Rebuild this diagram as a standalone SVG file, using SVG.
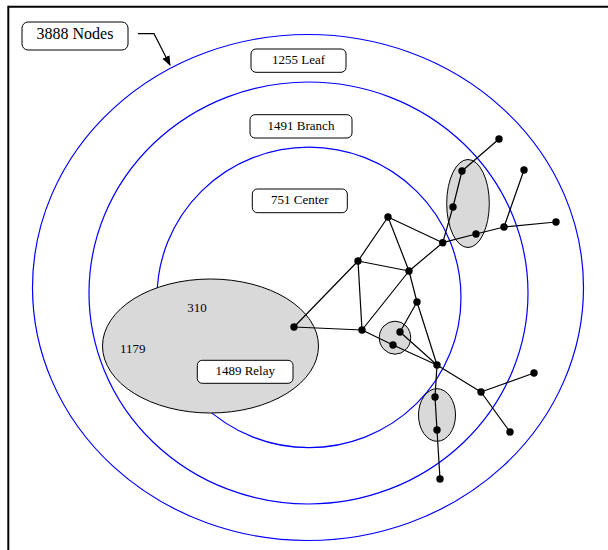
<svg xmlns="http://www.w3.org/2000/svg" width="608" height="550" viewBox="0 0 608 550">
<style>
.ring{fill:none;stroke:#0000ff;stroke-width:1.2}
.grp{fill:#d9d9d9;stroke:#000;stroke-width:1}
.box{fill:#fff;stroke:#000;stroke-width:1}
.lbl{font-family:"Liberation Serif","Times New Roman",serif;font-size:13px;fill:#000;text-anchor:middle}
.edge{stroke:#000;stroke-width:1.2;fill:none}
.dot{fill:#000}
</style>
<defs>
<marker id="ah" markerWidth="10" markerHeight="10" refX="9" refY="5" orient="auto" markerUnits="userSpaceOnUse">
<path d="M0,1 L10,5 L0,9 Z" fill="#000"/>
</marker>
</defs>
<rect width="608" height="550" fill="#fff"/>
<g id="frame">
<line x1="8.3" y1="6.7" x2="608" y2="6.7" stroke="#000" stroke-width="2"/>
<line x1="8.3" y1="5.7" x2="8.3" y2="550" stroke="#000" stroke-width="2"/>
</g>
<g id="rings">
<ellipse id="ring-outer" class="ring" cx="308" cy="287.5" rx="275.5" ry="253"/>
<ellipse id="ring-middle" class="ring" cx="308.5" cy="293" rx="219.5" ry="211"/>
<ellipse id="ring-inner" class="ring" cx="309" cy="297.4" rx="152" ry="150.3"/>
</g>
<g id="groups">
<ellipse id="relay-group" class="grp" cx="210.5" cy="346" rx="108" ry="67"/>
<ellipse id="group-ne" class="grp" cx="468" cy="203.5" rx="21.3" ry="44"/>
<ellipse id="group-mid" class="grp" cx="395" cy="337.7" rx="15.7" ry="16.5"/>
<ellipse id="group-s" class="grp" cx="437" cy="415" rx="18.5" ry="26.3"/>
</g>
<g id="labels">
<g id="label-nodes">
<rect class="box" x="22" y="22" width="106" height="28" rx="6"/>
<text class="lbl" x="75" y="38.5" style="font-size:16px">3888 Nodes</text>
</g>
<g id="label-leaf">
<rect class="box" x="251" y="49" width="95" height="23.3" rx="5"/>
<text class="lbl" x="298.5" y="63.5">1255 Leaf</text>
</g>
<g id="label-branch">
<rect class="box" x="250" y="114.7" width="102" height="23.3" rx="5"/>
<text class="lbl" x="301" y="129.5">1491 Branch</text>
</g>
<g id="label-center">
<rect class="box" x="252.3" y="189" width="95" height="23.7" rx="5"/>
<text class="lbl" x="299.8" y="204.3">751 Center</text>
</g>
<g id="label-relay">
<rect class="box" x="197.3" y="360.3" width="95.7" height="23" rx="5"/>
<text class="lbl" x="245.2" y="375.3">1489 Relay</text>
</g>
<text id="label-310" class="lbl" x="197" y="311.7">310</text>
<text id="label-1179" class="lbl" x="132.7" y="352.7">1179</text>
</g>
<g id="connectors">
<polyline class="edge" points="138,33.7 154,33.7 170,65" marker-end="url(#ah)"/>
<path class="edge" d="M294,327 L358,261 M294,327 L362,330 M358,261 L362,330 M358,261 L388,217 M358,261 L409,271 M388,217 L409,271 M388,217 L442.7,242.7 M409,271 L442.7,242.7 M409,271 L362,330 M409,271 L417,302 M417,302 L400,332 M417,302 L437,365 M400,332 L437,365 M362,330 L393,345 M393,345 L437,365 M442.7,242.7 L453,207 M453,207 L462,171 M462,171 L499,139 M442.7,242.7 L476,234 M476,234 L504,227 M504,227 L556,222 M504,227 L524,170 M437,365 L435,397 M435,397 L437,430 M437,430 L440,479 M437,365 L481,392 M481,392 L534,373 M481,392 L510,432"/>
</g>
<g id="nodes">
<circle id="n-a" class="dot" cx="294" cy="327" r="3.7"/>
<circle id="n-b" class="dot" cx="358" cy="261" r="3.7"/>
<circle id="n-c" class="dot" cx="388" cy="217" r="3.7"/>
<circle id="n-d" class="dot" cx="409" cy="271" r="3.7"/>
<circle id="n-e" class="dot" cx="362" cy="330" r="3.7"/>
<circle id="n-f" class="dot" cx="417" cy="302" r="3.7"/>
<circle id="n-g" class="dot" cx="400" cy="332" r="3.7"/>
<circle id="n-h" class="dot" cx="393" cy="345" r="3.7"/>
<circle id="n-i" class="dot" cx="437" cy="365" r="3.7"/>
<circle id="n-j" class="dot" cx="442.7" cy="242.7" r="3.7"/>
<circle id="n-k" class="dot" cx="476" cy="234" r="3.7"/>
<circle id="n-l" class="dot" cx="504" cy="227" r="3.7"/>
<circle id="n-m" class="dot" cx="556" cy="222" r="3.7"/>
<circle id="n-n" class="dot" cx="524" cy="170" r="3.7"/>
<circle id="n-o" class="dot" cx="462" cy="171" r="3.7"/>
<circle id="n-p" class="dot" cx="453" cy="207" r="3.7"/>
<circle id="n-q" class="dot" cx="499" cy="139" r="3.7"/>
<circle id="n-r" class="dot" cx="435" cy="397" r="3.7"/>
<circle id="n-s" class="dot" cx="437" cy="430" r="3.7"/>
<circle id="n-t" class="dot" cx="440" cy="479" r="3.7"/>
<circle id="n-u" class="dot" cx="481" cy="392" r="3.7"/>
<circle id="n-v" class="dot" cx="534" cy="373" r="3.7"/>
<circle id="n-w" class="dot" cx="510" cy="432" r="3.7"/>
</g>
</svg>
